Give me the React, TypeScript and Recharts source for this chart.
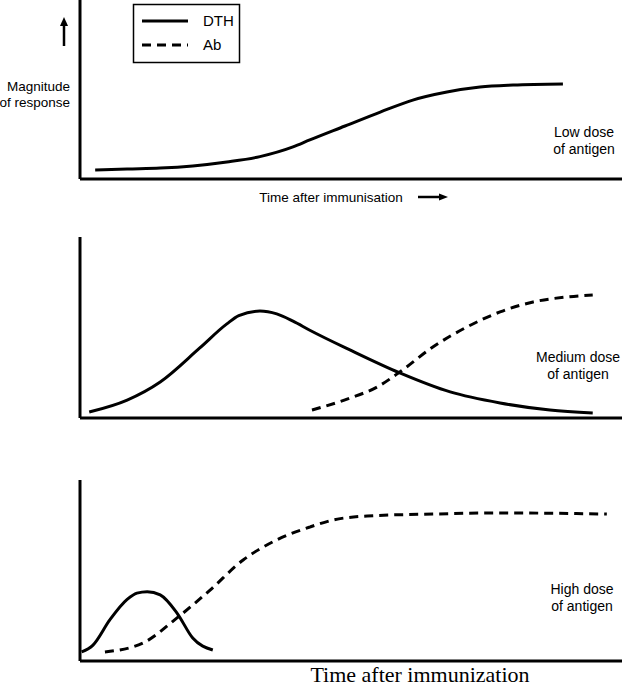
import React from 'react'
import { LineChart, Line, XAxis, YAxis } from 'recharts'

// time runs 0-100 along every x-axis, magnitude 0-100 up every y-axis
const lowDth = [
  { t: 2.8, v: 5.0 }, { t: 8.7, v: 5.6 }, { t: 14.8, v: 6.1 }, { t: 20.8, v: 7.3 },
  { t: 27.1, v: 9.5 }, { t: 33.2, v: 12.5 }, { t: 39.3, v: 17.9 }, { t: 42.4, v: 21.8 },
  { t: 48.9, v: 29.6 }, { t: 55.4, v: 37.4 }, { t: 61.4, v: 44.1 }, { t: 67.7, v: 48.6 },
  { t: 73.8, v: 51.4 }, { t: 79.9, v: 52.5 }, { t: 89.1, v: 53.1 },
]

const mediumDth = [
  { t: 1.7, v: 3.3 }, { t: 8.7, v: 9.9 }, { t: 14.8, v: 19.9 }, { t: 22.1, v: 38.7 },
  { t: 27.1, v: 52.0 }, { t: 29.3, v: 56.5 }, { t: 33.2, v: 59.1 }, { t: 36.3, v: 57.5 },
  { t: 39.3, v: 53.5 }, { t: 42.4, v: 48.5 }, { t: 49.8, v: 37.6 }, { t: 59.0, v: 24.9 },
  { t: 68.3, v: 14.4 }, { t: 77.5, v: 8.3 }, { t: 86.7, v: 4.4 }, { t: 94.6, v: 2.8 },
]

const mediumAb = [
  { t: 42.8, v: 4.4 }, { t: 49.8, v: 11.0 }, { t: 54.8, v: 17.1 }, { t: 59.0, v: 25.4 },
  { t: 65.1, v: 39.2 }, { t: 71.4, v: 50.3 }, { t: 77.5, v: 58.6 }, { t: 83.6, v: 64.1 },
  { t: 89.9, v: 66.9 }, { t: 94.6, v: 68.0 },
]

const highDth = [
  { t: 0.3, v: 5.0 }, { t: 2.4, v: 8.8 }, { t: 5.5, v: 22.7 }, { t: 8.7, v: 34.0 },
  { t: 10.5, v: 37.5 }, { t: 12.4, v: 38.3 }, { t: 14.8, v: 36.5 }, { t: 17.9, v: 26.5 },
  { t: 20.8, v: 12.7 }, { t: 24.5, v: 6.1 },
]

const highAb = [
  { t: 4.6, v: 5.0 }, { t: 11.6, v: 9.9 }, { t: 17.9, v: 23.8 }, { t: 24.0, v: 39.2 },
  { t: 30.1, v: 55.8 }, { t: 36.3, v: 66.9 }, { t: 42.4, v: 74.0 }, { t: 46.7, v: 77.9 },
  { t: 53.0, v: 80.1 }, { t: 65.1, v: 81.2 }, { t: 77.5, v: 81.8 }, { t: 97.2, v: 81.2 },
]

const legendItems = ['DTH', 'Ab']
const yLabel = ['Magnitude', 'of response']
const topXLabel = 'Time after immunisation'
const bottomXLabel = 'Time after immunization'
const doseLabels = [
  ['Low dose', 'of antigen'],
  ['Medium dose', 'of antigen'],
  ['High dose', 'of antigen'],
]

const DASH = '9 6'
const sans = 'Liberation Sans, Arial, sans-serif'

type Pt = { t: number; v: number }

// plot area: x 80..622, y from plotTop to plotBottom (the x-axis line)
const Panel = ({ plotTop, plotBottom, dth, ab }: {
  plotTop: number
  plotBottom: number
  dth: Pt[]
  ab?: Pt[]
}) => (
  <div style={{ position: 'absolute', left: 0, top: 0 }}>
    <LineChart
      width={622}
      height={plotBottom + 6}
      margin={{ top: plotTop, bottom: 0, left: 76, right: 0 }}
    >
      <XAxis
        type="number"
        dataKey="t"
        domain={[0, 100]}
        allowDataOverflow
        tick={false}
        tickLine={false}
        height={6}
        axisLine={{ stroke: '#000', strokeWidth: 3 }}
      />
      <YAxis
        type="number"
        domain={[0, 100]}
        allowDataOverflow
        tick={false}
        tickLine={false}
        width={4}
        axisLine={{ stroke: '#000', strokeWidth: 3 }}
      />
      <Line data={dth} dataKey="v" type="monotone" stroke="#000" strokeWidth={3} dot={false} isAnimationActive={false} />
      {ab && (
        <Line data={ab} dataKey="v" type="monotone" stroke="#000" strokeWidth={3} strokeDasharray={DASH} dot={false} isAnimationActive={false} />
      )}
    </LineChart>
  </div>
)

export default function App() {
  return (
    <div style={{ position: 'absolute', left: 0, top: 0, width: 622, height: 686, background: '#fff', overflow: 'hidden' }}>
      <Panel plotTop={0} plotBottom={179} dth={lowDth} />
      <Panel plotTop={237} plotBottom={418} dth={mediumDth} ab={mediumAb} />
      <Panel plotTop={480} plotBottom={661} dth={highDth} ab={highAb} />

      <svg width={622} height={686} style={{ position: 'absolute', left: 0, top: 0, pointerEvents: 'none' }}>
        {/* legend */}
        <rect x={133.5} y={4.5} width={106} height={58} fill="#fff" stroke="#000" strokeWidth={1.5} />
        <line x1={142} x2={188} y1={21} y2={21} stroke="#000" strokeWidth={3} />
        <line x1={142} x2={188} y1={45} y2={45} stroke="#000" strokeWidth={3} strokeDasharray={DASH} />
        {legendItems.map((s, i) => (
          <text key={s} x={203} y={21 + i * 24} dy="0.35em" fontFamily={sans} fontSize={15}>{s}</text>
        ))}

        {/* y label + arrow */}
        <line x1={64} x2={64} y1={46} y2={24} stroke="#000" strokeWidth={2.5} />
        <path d="M60,26 L64,17 L68,26 Z" fill="#000" />
        {yLabel.map((s, i) => (
          <text key={s} x={70} y={86 + i * 16} dy="0.35em" textAnchor="end" fontFamily={sans} fontSize={13.5}>{s}</text>
        ))}

        {/* top x label + arrow */}
        <text x={331} y={197} dy="0.35em" textAnchor="middle" fontFamily={sans} fontSize={13.5}>{topXLabel}</text>
        <line x1={418} x2={440} y1={197} y2={197} stroke="#000" strokeWidth={2.5} />
        <path d="M439,193.5 L448,197 L439,200.5 Z" fill="#000" />

        {/* dose labels */}
        {doseLabels.map((lines, k) => {
          const y0 = [132, 357, 589][k]
          const cx = [584, 578, 582][k]
          return lines.map((s, i) => (
            <text key={k + s} x={cx} y={y0 + i * 17} dy="0.35em" textAnchor="middle" fontFamily={sans} fontSize={14}>{s}</text>
          ))
        })}

        <text x={420} y={674} dy="0.35em" textAnchor="middle" fontFamily="Liberation Serif, Times New Roman, serif" fontSize={22}>
          {bottomXLabel}
        </text>
      </svg>
    </div>
  )
}
